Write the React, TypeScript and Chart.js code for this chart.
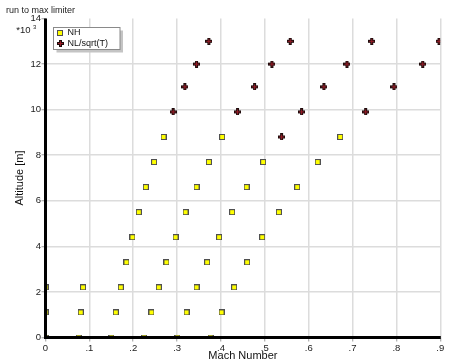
import React, { useEffect, useRef } from 'react';
import { Chart, registerables } from 'chart.js';

Chart.register(...registerables);

const chartTitle = 'run to max limiter';
const xTitle = 'Mach Number';
const yTitle = 'Altitude [m]';
const seriesNames = ['NH', 'NL/sqrt(T)'];
const xTickLabels = ['0', '.1', '.2', '.3', '.4', '.5', '.6', '.7', '.8', '.9'];
const yTickLabels = ['0', '2', '4', '6', '8', '10', '12', '14'];
const yMultiplier = '*10';
const yExponent = '3';

const altitudeLevels = [0, 1100, 2200, 3300, 4400, 5500, 6600, 7700, 8800, 9900, 11000, 12000, 13000];

// Mach numbers of the NH-limited points, one list per altitude level
const nhMach = [
  [0, 0.0757, 0.1504, 0.2247, 0.3009, 0.3762],
  [0, 0.0803, 0.1602, 0.2416, 0.3215, 0.4013],
  [0, 0.0856, 0.1716, 0.2583, 0.3443, 0.4301],
  [0.1846, 0.2758, 0.3685, 0.4597],
  [0.1983, 0.2964, 0.3958, 0.494],
  [0.2126, 0.3192, 0.4255, 0.532],
  [0.2286, 0.3443, 0.4584, 0.5738],
  [0.2475, 0.3723, 0.4962, 0.6204],
  [0.269, 0.4027, 0.6719],
  [],
  [],
  [],
  [],
];

// Mach numbers of the NL/sqrt(T)-limited points, one list per altitude level
const nlMach = [
  [],
  [],
  [],
  [],
  [],
  [],
  [],
  [],
  [0.5382],
  [0.291, 0.4378, 0.5838, 0.7299],
  [0.3176, 0.4766, 0.6347, 0.7944],
  [0.3443, 0.5161, 0.6872, 0.8599],
  [0.3723, 0.5578, 0.7436, 0.8971],
];

const FONT = "'Liberation Sans', Arial, sans-serif";

function makeSquare(): HTMLCanvasElement {
  const c = document.createElement('canvas');
  c.width = 6;
  c.height = 6;
  const g = c.getContext('2d')!;
  g.fillStyle = '#505050';
  g.fillRect(0, 0, 6, 6);
  g.fillStyle = '#ffff00';
  g.fillRect(1, 1, 4, 4);
  return c;
}

function makeCross(): HTMLCanvasElement {
  const c = document.createElement('canvas');
  c.width = 7;
  c.height = 7;
  const g = c.getContext('2d')!;
  g.fillStyle = '#1e0c0c';
  g.fillRect(2, 0, 3, 7);
  g.fillRect(0, 2, 7, 3);
  g.fillStyle = '#9a1c28';
  g.fillRect(3, 1, 1, 5);
  g.fillRect(1, 3, 5, 1);
  return c;
}

export default function App() {
  const canvasRef = useRef<HTMLCanvasElement | null>(null);

  useEffect(() => {
    const canvas = canvasRef.current;
    if (!canvas) return;
    const square = makeSquare();
    const cross = makeCross();

    const nhPoints = altitudeLevels.flatMap((alt, i) => nhMach[i].map((m) => ({ x: m, y: alt })));
    const nlPoints = altitudeLevels.flatMap((alt, i) => nlMach[i].map((m) => ({ x: m, y: alt })));

    const overlay = {
      id: 'overlay',
      afterDatasetsDraw(chart: any) {
        const { ctx, chartArea: ca } = chart;
        ctx.save();
        // axes
        ctx.strokeStyle = '#000';
        ctx.lineWidth = 3;
        ctx.beginPath();
        ctx.moveTo(ca.left, ca.top);
        ctx.lineTo(ca.left, ca.bottom + 1.5);
        ctx.moveTo(ca.left - 1.5, ca.bottom);
        ctx.lineTo(ca.right + 0.5, ca.bottom);
        ctx.stroke();

        // title
        ctx.fillStyle = '#222';
        ctx.font = `9px ${FONT}`;
        ctx.textAlign = 'left';
        ctx.textBaseline = 'alphabetic';
        ctx.fillText(chartTitle, 6, 12.5);

        // multiplier
        ctx.font = `9.5px ${FONT}`;
        ctx.textAlign = 'right';
        ctx.fillText(yMultiplier, 30.5, 33.3);
        ctx.font = `6px ${FONT}`;
        ctx.textAlign = 'left';
        ctx.fillText(yExponent, 33, 29.3);

        // legend
        const lx = 53.5, ly = 27.5, lw = 66.5, lh = 22;
        ctx.fillStyle = '#c4c4c4';
        ctx.fillRect(lx + 3, ly + 3, lw, lh);
        ctx.fillStyle = '#fff';
        ctx.fillRect(lx, ly, lw, lh);
        ctx.strokeStyle = '#8a8a8a';
        ctx.lineWidth = 1;
        ctx.strokeRect(lx, ly, lw, lh);
        ctx.drawImage(square, 57, 30);
        ctx.drawImage(cross, 57, 40);
        ctx.fillStyle = '#111';
        ctx.font = `9px ${FONT}`;
        ctx.textBaseline = 'middle';
        ctx.fillText(seriesNames[0], 67.5, 33);
        ctx.fillText(seriesNames[1], 67.5, 44);
        ctx.restore();
      },
    };

    const chart = new Chart(canvas, {
      type: 'scatter',
      data: {
        datasets: [
          {
            label: seriesNames[0],
            data: nhPoints,
            pointStyle: square as any,
            pointRadius: 3,
          },
          {
            label: seriesNames[1],
            data: nlPoints,
            pointStyle: cross as any,
            pointRadius: 3,
          },
        ],
      },
      options: {
        animation: false,
        responsive: false,
        devicePixelRatio: 1,
        events: [],
        layout: { padding: { top: 18.5, left: 0, right: 9.7, bottom: 0 } },
        plugins: {
          legend: { display: false },
          tooltip: { enabled: false },
          title: { display: false },
        },
        scales: {
          x: {
            type: 'linear',
            min: 0,
            max: 0.9,
            afterFit: (s: any) => {
              s.height = 25.5;
            },
            ticks: {
              stepSize: 0.1,
              padding: 1,
              color: '#222',
              maxRotation: 0,
              autoSkip: false,
              font: { family: FONT, size: 9.5 },
              callback: (v: any) => xTickLabels[Math.round(Number(v) * 10)],
            },
            grid: {
              color: '#dcdcdc',
              lineWidth: 1.5,
              tickLength: 4,
              tickColor: '#9a9a9a',
              tickWidth: 1,
            },
            border: { display: false },
            title: {
              display: true,
              text: xTitle,
              color: '#111',
              font: { family: FONT, size: 11 },
              padding: { top: 0, bottom: 0 },
            },
          },
          y: {
            type: 'linear',
            min: 0,
            max: 14000,
            afterFit: (s: any) => {
              s.width = 45.5;
            },
            ticks: {
              stepSize: 2000,
              padding: 0.5,
              color: '#222',
              font: { family: FONT, size: 9.5 },
              callback: (v: any) => yTickLabels[Math.round(Number(v) / 2000)],
            },
            grid: {
              color: (c: any) => (c.tick && c.tick.value === 14000 ? 'rgba(0,0,0,0)' : '#dcdcdc'),
              lineWidth: 1.5,
              tickLength: 4,
              tickColor: '#9a9a9a',
              tickWidth: 1,
            },
            border: { display: false },
            title: {
              display: true,
              text: yTitle,
              color: '#111',
              font: { family: FONT, size: 11 },
              padding: { top: 12.9, bottom: 0 },
            },
          },
        },
      },
      plugins: [overlay],
    });

    return () => {
      chart.destroy();
    };
  }, []);

  return (
    <div style={{ position: 'absolute', left: 0, top: 0, width: 450, height: 363, background: '#fff' }}>
      <canvas ref={canvasRef} width={450} height={363} style={{ display: 'block' }} />
    </div>
  );
}
